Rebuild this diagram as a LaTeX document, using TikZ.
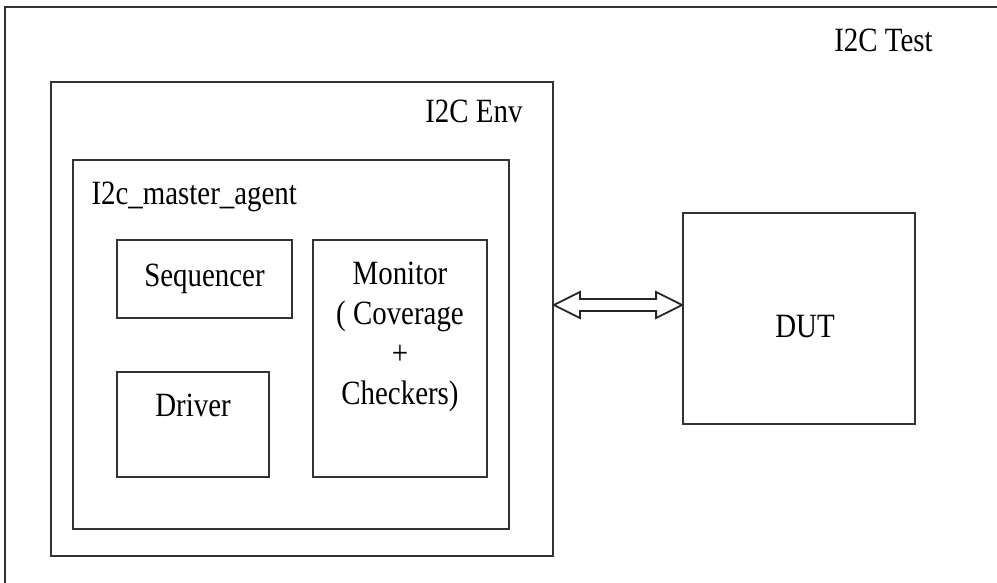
\documentclass[tikz,border=0pt]{standalone}
\usepackage{fontspec}
\setmainfont{Liberation Serif}[FakeStretch=0.85]
\usetikzlibrary{calc, positioning}

\begin{document}
\begin{tikzpicture}[
    x=0.5pt, y=-0.5pt,
    every node/.style={font=\fontsize{17}{20}\selectfont, inner sep=0pt},
    block/.style={draw=black!80, line width=0.9pt},
    lbl/.style={align=center},
    link/.style={draw=black!85, line width=0.9pt, fill=white, line join=miter}
]
    \useasboundingbox (0,0) rectangle (997,583);
    \clip (0,0) rectangle (997,583);

    % outer test box, runs off the page
    \node[block, minimum width=520pt, minimum height=310pt] (test) at (525,317) {};
    \node[lbl, anchor=base east] (testlbl) at (933,52) {I2C Test};

    % env and agent
    \node[block, minimum width=251pt, minimum height=237pt] (env) at (302,319) {};
    \node[lbl, anchor=base east] (envlbl) at ([shift={(-31,41)}]env.north east) {I2C Env};
    \node[block, minimum width=218pt, minimum height=184.5pt] (agent) at (291,344.5) {};
    \node[lbl, anchor=base west] (agentlbl) at ([shift={(19,45)}]agent.north west) {I2c\_master\_agent};

    % agent parts
    \node[block, minimum width=87.5pt, minimum height=39pt] (seq) at (204.5,279) {Sequencer};
    \node[block, minimum width=76pt, minimum height=52.5pt] (driver) at (193,424.5) {};
    \node[lbl, anchor=north] (drvlbl) at ([shift={(0,22)}]driver.north) {Driver};
    \node[block, minimum width=87pt, minimum height=118.5pt] (monitor) at (400,358.5) {};
    \node[lbl, anchor=north] (monlbl) at ([shift={(0,22)}]monitor.north) {Monitor\\( Coverage\\+\\Checkers)};

    % DUT
    \node[block, minimum width=116pt, minimum height=105.5pt] (dut) at (799,318.5) {};
    \node[lbl] (dutlbl) at ([shift={(6,8)}]dut.center) {DUT};

    % hollow double arrow
    \coordinate (lt) at ([shift={(0,-14)}]env.east);
    \coordinate (rt) at ([shift={(0,-13.5)}]dut.west);
    \draw[link] (lt) -- ++(26,-13) -- ++(0,7) -- ($(rt)+(-26,-6)$) -- ++(0,-7) -- (rt)
        -- ++(-26,13) -- ++(0,-7) -- ($(lt)+(26,6)$) -- ++(0,7) -- cycle;
\end{tikzpicture}
\end{document}
